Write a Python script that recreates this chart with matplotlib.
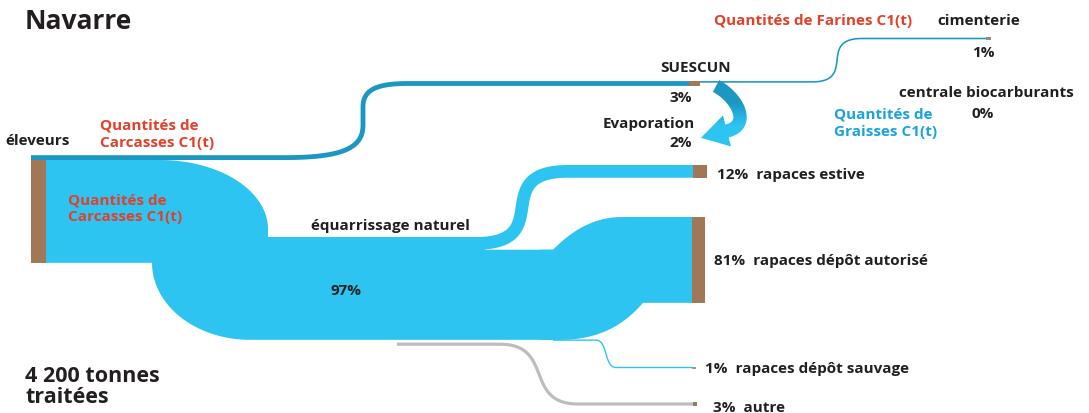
import numpy as np
import matplotlib.pyplot as plt
from matplotlib.patches import Rectangle, Polygon
from matplotlib.colors import LinearSegmentedColormap

plt.rcParams['font.family'] = ['Open Sans', 'DejaVu Sans']

region = 'Navarre'
total_label = '4 200 tonnes\ntraitées'
source_label = 'éleveurs'
branch_labels = ['équarrissage naturel', 'SUESCUN']
branch_shares = [97, 3]
dest_labels = ['rapaces estive', 'rapaces dépôt autorisé', 'rapaces dépôt sauvage', 'autre']
dest_shares = [12, 81, 1, 3]
suescun_labels = ['cimenterie', 'centrale biocarburants', 'Evaporation']
suescun_shares = [1, 0, 2]

LIGHT = '#2ec4f2'
DARK = '#1b97c2'
BROWN = '#a07858'
GREY = '#bdbdc1'
RED = '#e2402a'
CYAN = '#1aa3de'
INK = '#231f20'

K = 1.06      # pixels per percent, carcass flows
K_TOP = 1.6   # pixels per percent, thin rendering line

fig = plt.figure(figsize=(10.89, 4.14), dpi=100)
ax = fig.add_axes([0, 0, 1, 1])
ax.set_xlim(0, 1089)
ax.set_ylim(414, 0)
ax.axis('off')


def bez(p0, p1, p2, p3, n=80):
    t = np.linspace(0, 1, n)[:, None]
    p0, p1, p2, p3 = map(np.array, (p0, p1, p2, p3))
    return (1-t)**3*p0 + 3*(1-t)**2*t*p1 + 3*(1-t)*t**2*p2 + t**3*p3


def route(xa, x0, y0, x1, y1, xb, tension=0.5):
    dx = (x1 - x0) * tension
    pts = bez((x0, y0), (x0 + dx, y0), (x1 - dx, y1), (x1, y1))
    return np.vstack([[xa, y0], pts, [xb, y1]])


def ribbon(pts, width, color, z=2):
    width = max(width, 1.4)
    d = np.gradient(pts, axis=0)
    d /= np.hypot(d[:, 0], d[:, 1])[:, None]
    nrm = np.column_stack([-d[:, 1], d[:, 0]]) * width / 2
    poly = np.vstack([pts + nrm, (pts - nrm)[::-1]])
    ax.add_patch(Polygon(poly, closed=True, lw=0, color=color, zorder=z))


def arc(cx, cy, a, b, t0, t1, sx=1, sy=1, n=50):
    th = np.linspace(t0, t1, n)
    return np.column_stack([cx + sx*a*np.cos(th), cy + sy*b*np.sin(th)])


# main carcass flow (équarrissage naturel)
w_main = branch_shares[0] * K
w_est, w_aut, w_sau, w_aut3 = [s * K for s in dest_shares]
y_src, y_mid = 161, 238
top = arc(160, 230, 108, 230 - y_src, np.pi/2, 0, sy=-1)
bot = arc(250, y_src + w_main, 98, y_mid - y_src, np.pi/2, 0, sx=-1)
main = np.vstack([[[46, y_src]], top, [[268, y_mid], [485, y_mid],
                  [485, y_mid + w_est], [562, y_mid + w_est],
                  [562, y_mid + w_main]], bot, [[46, y_src + w_main]]])
ax.add_patch(Polygon(main, closed=True, lw=0, color=LIGHT, zorder=2))

# 81% toward the authorised feeding site
y81 = 218
ya = y_mid + w_est
top81 = bez((553, ya), (568, ya - 15), (590, y81), (622, y81), 60)
bot81 = bez((643, y81 + w_aut), (628, y81 + w_aut + 17),
            (605, y_mid + w_main), (560, y_mid + w_main), 60)
poly81 = np.vstack([[[540, ya]], top81, [[693, y81], [693, y81 + w_aut]],
                    bot81, [[540, y_mid + w_main]]])
ax.add_patch(Polygon(poly81, closed=True, lw=0, color=LIGHT, zorder=2))

# 12% summer pasture branch
y12 = 166
ribbon(route(470, 476, y_mid + w_est/2, 568, y12 + w_est/2, 693, 0.88), w_est, LIGHT)
# 1% wild dump
y1 = 368.5
ribbon(route(553, 596, y_mid + w_main + 0.3, 616, y1, 693, 0.6), w_sau, LIGHT)
# 3% other (grey)
y3 = 405
ribbon(route(397, 500, y_mid + w_main + 2.8 + w_aut3/2, 578, y3, 693, 0.7), w_aut3, GREY)

# 3% to SUESCUN: long lower bend, short vertical run, tight upper bend
w_sue = branch_shares[1] * K_TOP
y_sue = 84.5
ys0 = y_src - w_sue/2
sue_line = np.vstack([[[31, ys0]],
                      bez((285, ys0), (345, ys0), (363, 148), (363, 126), 50),
                      bez((363, 108), (363, 91), (376, y_sue), (408, y_sue), 50),
                      [[689, y_sue]]])
ribbon(sue_line, w_sue, DARK)
# 1% SUESCUN -> cimenterie
w_cim = suescun_shares[0] * K_TOP
y_cim = 39.5
ribbon(route(699, 812, y_sue - w_sue/2 + w_cim/2, 862, y_cim, 986, 0.9), w_cim, DARK)

# evaporation arrow with dark-to-light gradient
w_evap = suescun_shares[2] * K * 6.3
cl = bez((716, 87), (737, 98), (752, 126), (727, 132), 60)
d = np.gradient(cl, axis=0)
d /= np.hypot(d[:, 0], d[:, 1])[:, None]
nrm = np.column_stack([-d[:, 1], d[:, 0]]) * w_evap / 2
tip_dir = d[-1]
perp = np.array([-tip_dir[1], tip_dir[0]])
tip = cl[-1] + 27 * tip_dir
head = [cl[-1] + 16*perp, tip, cl[-1] - 16*perp]
arrow = np.vstack([cl + nrm, head, (cl - nrm)[::-1]])
arrow_patch = Polygon(arrow, closed=True, lw=0, facecolor='none', zorder=3)
ax.add_patch(arrow_patch)
grad = np.linspace(0, 1, 100)[:, None]
cmap = LinearSegmentedColormap.from_list('evap', [DARK, DARK, LIGHT, LIGHT], N=256)
im = ax.imshow(grad, cmap=cmap, extent=(690, 760, 150, 80), aspect='auto',
               interpolation='bilinear', zorder=3)
im.set_clip_path(arrow_patch)

# nodes
ax.add_patch(Rectangle((31, y_src), 15, w_main, color=BROWN, lw=0, zorder=4))
ax.add_patch(Rectangle((689, y_sue - w_sue/2), 10.5, w_sue, color=BROWN, lw=0, zorder=4))
ax.add_patch(Rectangle((986, y_cim - 1.5), 5, 3, color='#9c8a78', lw=0, zorder=4))
ax.add_patch(Rectangle((693, y12), 14, w_est, color=BROWN, lw=0, zorder=4))
ax.add_patch(Rectangle((692, y81), 13, w_aut, color=BROWN, lw=0, zorder=4))
ax.add_patch(Rectangle((692, y1 - 1), 4, 2, color='#9a9a9a', lw=0, zorder=4))
ax.add_patch(Rectangle((693, y3 - w_aut3/2), 4, w_aut3, color=BROWN, lw=0, zorder=4))

# text
bold = dict(fontweight='bold', color=INK, va='baseline')
fs = 11
ax.text(25, 29, region, fontsize=19, **bold)
ax.text(25, 382, total_label.split('\n')[0], fontsize=15.5, **bold)
ax.text(25, 403, total_label.split('\n')[1], fontsize=15.5, **bold)
ax.text(5, 145, source_label, fontsize=fs, **bold)
carc = ['Quantités de', 'Carcasses C1(t)']
for x, ys in [(100, (130, 147)), (68, (205, 221))]:
    for y, s in zip(ys, carc):
        ax.text(x, y, s, fontsize=fs, fontweight='bold', color=RED, va='baseline')
ax.text(390, 230, branch_labels[0], fontsize=fs, ha='center', **bold)
ax.text(346, 295, f'{branch_shares[0]}%', fontsize=fs, ha='center', **bold)
ax.text(696, 72, branch_labels[1], fontsize=fs, ha='center', **bold)
ax.text(681, 102, f'{branch_shares[1]}%', fontsize=fs, ha='center', **bold)
ax.text(695, 128, suescun_labels[2], fontsize=fs, ha='right', **bold)
ax.text(692, 147, f'{suescun_shares[2]}%', fontsize=fs, ha='right', **bold)
ax.text(714, 25, 'Quantités de Farines C1(t)', fontsize=fs, fontweight='bold',
        color=RED, va='baseline')
ax.text(937, 25, suescun_labels[0], fontsize=fs, **bold)
ax.text(983, 57, f'{suescun_shares[0]}%', fontsize=fs, ha='center', **bold)
ax.text(986, 97, suescun_labels[1], fontsize=fs, ha='center', **bold)
ax.text(983, 118, f'{suescun_shares[1]}%', fontsize=fs, ha='center', **bold)
ax.text(834, 119, 'Quantités de', fontsize=fs, fontweight='bold', color=CYAN, va='baseline')
ax.text(834, 136, 'Graisses C1(t)', fontsize=fs, fontweight='bold', color=CYAN, va='baseline')

for x, y, s, lab in zip([717, 714, 705, 713], [179, 265, 373, 412], dest_shares, dest_labels):
    ax.text(x, y, f'{s}%  {lab}', fontsize=fs, **bold)

fig.savefig('out.png', dpi=100)
